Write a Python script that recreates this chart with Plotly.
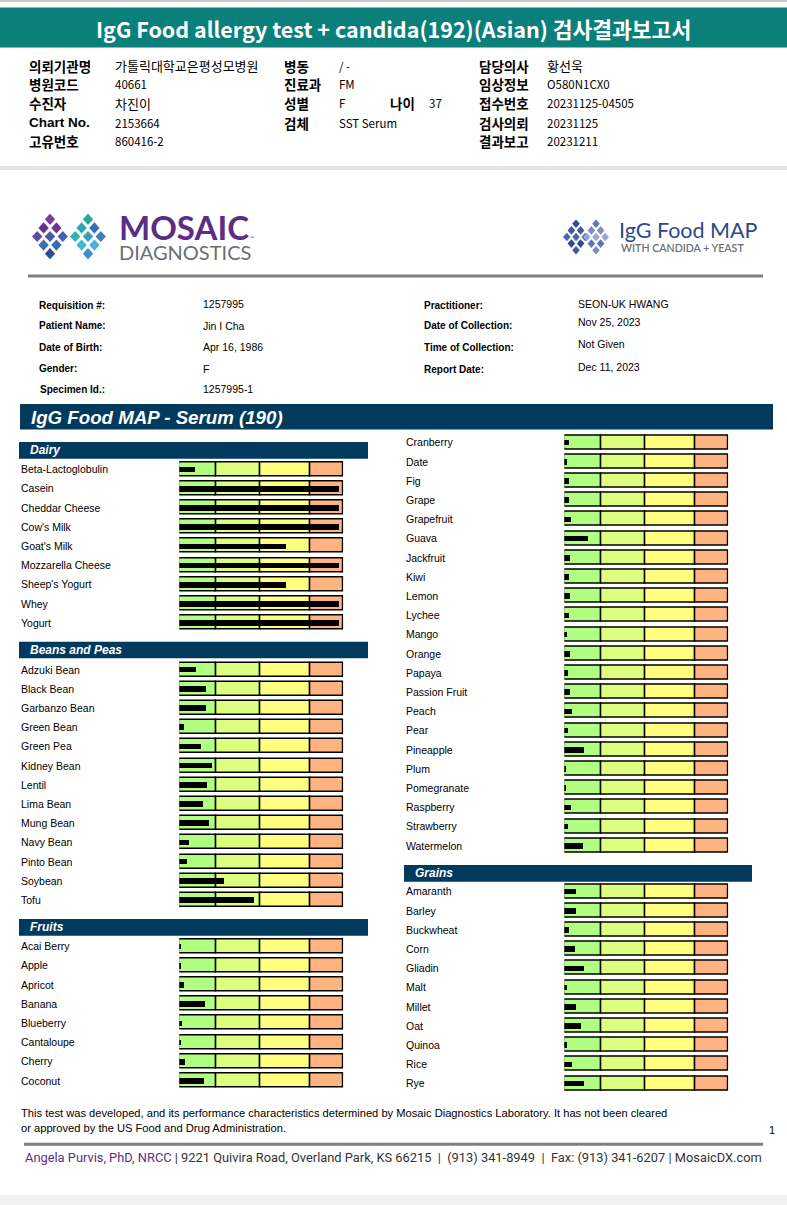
import re
import plotly.graph_objects as go

W, H = 787, 1205

# ---------------- data ----------------
SCALE_EDGES = [0, 37.4, 81, 131, 164]
ZONE_COLORS = ["#b0ff80", "#ddff80", "#ffff80", "#ffb380"]

DAIRY_ITEMS = ["Beta-Lactoglobulin", "Casein", "Cheddar Cheese", "Cow's Milk", "Goat's Milk",
               "Mozzarella Cheese", "Sheep's Yogurt", "Whey", "Yogurt"]
DAIRY_VALUES = [15.7, 159.7, 159.7, 159.7, 106.7, 159.7, 106.7, 159.7, 159.7]

BEANS_ITEMS = ["Adzuki Bean", "Black Bean", "Garbanzo Bean", "Green Bean", "Green Pea", "Kidney Bean",
               "Lentil", "Lima Bean", "Mung Bean", "Navy Bean", "Pinto Bean", "Soybean", "Tofu"]
BEANS_VALUES = [16.7, 26.7, 26.7, 4.7, 21.7, 32.7, 27.7, 23.7, 29.7, 9.7, 7.7, 44.7, 74.7]

FRUITS_A_ITEMS = ["Acai Berry", "Apple", "Apricot", "Banana", "Blueberry", "Cantaloupe", "Cherry", "Coconut"]
FRUITS_A_VALUES = [1.3, 1.3, 4.7, 25.7, 2.7, 1.3, 5.7, 24.7]

FRUITS_B_ITEMS = ["Cranberry", "Date", "Fig", "Grape", "Grapefruit", "Guava", "Jackfruit", "Kiwi", "Lemon",
                  "Lychee", "Mango", "Orange", "Papaya", "Passion Fruit", "Peach", "Pear", "Pineapple",
                  "Plum", "Pomegranate", "Raspberry", "Strawberry", "Watermelon"]
FRUITS_B_VALUES = [4.7, 3.3, 4.7, 4.7, 6.7, 23.7, 5.7, 4.7, 5.7, 4.7, 3.3, 5.7, 3.7, 5.7, 7.7, 3.7,
                   19.7, 1.3, 1.3, 6.7, 3.7, 18.7]

GRAINS_ITEMS = ["Amaranth", "Barley", "Buckwheat", "Corn", "Gliadin", "Malt", "Millet", "Oat",
                "Quinoa", "Rice", "Rye"]
GRAINS_VALUES = [11.7, 11.7, 4.7, 10.7, 19.7, 3.3, 11.7, 16.7, 3.3, 7.7, 19.7]

KR_TITLE = "IgG Food allergy test + candida(192)(Asian) 검사결과보고서"
KR_COL1_LABELS = ["의뢰기관명", "병원코드", "수진자", "Chart No.", "고유번호"]
KR_COL1_VALUES = ["가톨릭대학교은평성모병원", "40661", "차진이", "2153664", "860416-2"]
KR_COL2_LABELS = ["병동", "진료과", "성별", "검체"]
KR_COL2_VALUES = ["/ -", "FM", "F", "SST Serum"]
KR_AGE = ("나이", "37")
KR_COL3_LABELS = ["담당의사", "임상정보", "접수번호", "검사의뢰", "결과보고"]
KR_COL3_VALUES = ["황선욱", "O580N1CX0", "20231125-04505", "20231125", "20231211"]

PT_LEFT_LABELS = ["Requisition #:", "Patient Name:", "Date of Birth:", "Gender:", "Specimen Id.:"]
PT_LEFT_VALUES = ["1257995", "Jin I Cha", "Apr 16, 1986", "F", "1257995-1"]
PT_RIGHT_LABELS = ["Practitioner:", "Date of Collection:", "Time of Collection:", "Report Date:"]
PT_RIGHT_VALUES = ["SEON-UK HWANG", "Nov 25, 2023", "Not Given", "Dec 11, 2023"]

MAIN_TITLE = "IgG Food MAP - Serum (190)"
DISCLAIMER = ["This test was developed, and its performance characteristics determined by Mosaic Diagnostics Laboratory. It has not been cleared",
              "or approved by the US Food and Drug Administration."]
FOOTER_NAME = "Angela Purvis, PhD, NRCC"
FOOTER_REST = " | 9221 Quivira Road, Overland Park, KS 66215  |  (913) 341-8949  |  Fax: (913) 341-6207 | MosaicDX.com"

# ---------------- helpers ----------------
def PX(x):
    return x / W

def PY(y):
    return 1 - y / H

SANS = "Liberation Sans, Arial, sans-serif"
KR = "Noto Sans CJK KR, sans-serif"
HANGUL = re.compile("[\uac00-\ud7a3]")

annotations = []
shapes = []

def txt(x, y, s, size, color="black", family=SANS, xanchor="left", yanchor="middle", weight=None):
    f = dict(size=size, color=color, family=family)
    if weight:
        f["weight"] = weight
    annotations.append(dict(x=PX(x), y=PY(y), xref="paper", yref="paper", text=s, showarrow=False,
                            xanchor=xanchor, yanchor=yanchor, font=f, align="left", borderpad=0))

def rect(x0, y0, x1, y1, color, line=None):
    shapes.append(dict(type="rect", xref="paper", yref="paper", x0=PX(x0), x1=PX(x1), y0=PY(y1), y1=PY(y0),
                       fillcolor=color, line=dict(width=0) if line is None else line, layer="below"))

def diamond(cx, cy, hw, hh, color):
    p = (f"M {PX(cx)},{PY(cy - hh)} L {PX(cx + hw)},{PY(cy)} L {PX(cx)},{PY(cy + hh)} "
         f"L {PX(cx - hw)},{PY(cy)} Z")
    shapes.append(dict(type="path", xref="paper", yref="paper", path=p, fillcolor=color,
                       line=dict(width=0), layer="above"))

def kr_value(x, y, v):
    txt(x, y, v, 13 if HANGUL.search(v) else 11.5, family=KR)

fig = go.Figure()

# ---------------- page decoration ----------------
rect(0, 0, W, 2, "#c8c8c8")
rect(0, 7.5, W, 47.5, "#0b7f79")
txt(393.5, 28, f"<b>{KR_TITLE}</b>", 21.5, color="white", family=KR, xanchor="center")

kr_rows = [65.5, 84, 103.3, 122.8, 140.5]
for i, (l, v) in enumerate(zip(KR_COL1_LABELS, KR_COL1_VALUES)):
    if l == "Chart No.":
        txt(27.5, kr_rows[i], f"<b>{l}</b>", 13.5, family=SANS)
    else:
        txt(27.5, kr_rows[i], f"<b>{l}</b>", 13.5, family=KR)
    kr_value(114, kr_rows[i], v)
for i, (l, v) in enumerate(zip(KR_COL2_LABELS, KR_COL2_VALUES)):
    txt(282.5, kr_rows[i], f"<b>{l}</b>", 13.5, family=KR)
    kr_value(338, kr_rows[i], v)
txt(389, kr_rows[2], f"<b>{KR_AGE[0]}</b>", 13.5, family=KR)
kr_value(428, kr_rows[2], KR_AGE[1])
for i, (l, v) in enumerate(zip(KR_COL3_LABELS, KR_COL3_VALUES)):
    txt(477.5, kr_rows[i], f"<b>{l}</b>", 13.5, family=KR)
    kr_value(546, kr_rows[i], v)

rect(0, 166, W, 170, "#e4e4e4")

# Mosaic logo (two rotated 3x3 diamond clusters)
left_cols = [["#7d3c98", "#6b2e8c", "#5c4aa0"], ["#6a3a93", "#4a5aa8", "#3d6fb0"], ["#4b5fae", "#3a6cb3", "#2e4c9a"]]
right_cols = [["#1fa99a", "#2aa7b0", "#2cb5a6"], ["#3a6cb3", "#34a0c4", "#3db8cc"], ["#3d7fc0", "#4ab0d8", "#3c8fcf"]]
for ccx, cols in ((50, left_cols), (88, right_cols)):
    for i in range(3):
        for j in range(3):
            cx = ccx + (i - j) * 6.4
            cy = 236.5 + (i + j - 2) * 8.6
            diamond(cx, cy, 5.2, 5.6, cols[i][j])
txt(118, 236, ("<span style='font-size:33px;color:#5b2d86'><b>MOSAIC</b></span>"
               "<span style='font-size:5px;color:#5b2d86'> ™</span><br>"
               "<span style='font-size:20px;color:#6d6e71'>DIAGNOSTICS</span>"),
    15.4, color="#6d6e71", family="Lato, sans-serif")

# IgG Food MAP logo
for ccx, cols in ((576, ["#2e4b94", "#3d5aa4", "#4d66ab"]), (596, ["#5f74b6", "#7d8dc3", "#9aa6d0"])):
    for i in range(3):
        for j in range(3):
            cx = ccx + (i - j) * 4.6
            cy = 237 + (i + j - 2) * 6.6
            diamond(cx, cy, 3.8, 4.3, cols[(i + j) % 3])
txt(618, 230.5, "IgG Food MAP", 21.5, color="#2b4a8c", family="Lato, sans-serif")
txt(619.5, 248.5, "WITH CANDIDA + YEAST", 10.6, color="#6d6e71", family="Lato, sans-serif", weight=600)

rect(28, 274.5, 763, 277.5, "#808080")

# patient info
for l, y in zip(PT_LEFT_LABELS, [305, 326, 347.7, 368.3, 390]):
    txt(37.5 if l != "Specimen Id.:" else 39, y, f"<b>{l}</b>", 10)
for v, y in zip(PT_LEFT_VALUES, [304, 326.5, 347.5, 368.5, 389.5]):
    txt(202, y, v, 10.5)
for l, y in zip(PT_RIGHT_LABELS, [305, 326, 348, 369]):
    txt(423, y, f"<b>{l}</b>", 10)
for v, y in zip(PT_RIGHT_VALUES, [304, 322, 343.5, 367]):
    txt(577, y, v, 10.5)

NAVY = "#003a5c"
rect(20, 404, 773, 429.5, NAVY)
txt(30, 417, f"<b><i>{MAIN_TITLE}</i></b>", 18.7, color="white")

# ---------------- chart sections ----------------
PITCH = 19.2
sections = [
    # title, items, values, label_x, bar_x0, bar_x1, first_center, header box (x0,y0,x1,y1)
    ("Dairy", DAIRY_ITEMS, DAIRY_VALUES, 20, 179.3, 343.3, 469.2, (19, 442, 368, 458.7)),
    ("Beans and Peas", BEANS_ITEMS, BEANS_VALUES, 20, 179.3, 343.3, 669.5, (19, 641.7, 368, 658.3)),
    ("Fruits", FRUITS_A_ITEMS, FRUITS_A_VALUES, 20, 179.3, 343.3, 946.2, (19, 919, 368, 935.7)),
    (None, FRUITS_B_ITEMS, FRUITS_B_VALUES, 405, 564.3, 728.3, 442.3, None),
    ("Grains", GRAINS_ITEMS, GRAINS_VALUES, 405, 564.3, 728.3, 891.4, (404, 865, 752, 881.7)),
]

layout_axes = {}
for k, (title, items, values, lx, bx0, bx1, c0, hdr) in enumerate(sections, start=1):
    n = len(items)
    xa = "x" if k == 1 else f"x{k}"
    ya = "y" if k == 1 else f"y{k}"
    xkey = "xaxis" if k == 1 else f"xaxis{k}"
    ykey = "yaxis" if k == 1 else f"yaxis{k}"
    top = c0 - PITCH / 2
    bot = top + n * PITCH
    layout_axes[xkey] = dict(domain=[PX(bx0), PX(bx1)], range=[SCALE_EDGES[0], SCALE_EDGES[-1]],
                             visible=False, fixedrange=True, anchor=ya)
    layout_axes[ykey] = dict(domain=[PY(bot), PY(top)], range=[n - 0.5, -0.5], type="category",
                             categoryorder="array", categoryarray=items, visible=False,
                             fixedrange=True, anchor=xa)
    for z in range(4):
        fig.add_trace(go.Bar(
            y=items, x=[SCALE_EDGES[z + 1] - SCALE_EDGES[z]] * n, base=[SCALE_EDGES[z]] * n,
            orientation="h", width=0.73, marker=dict(color=ZONE_COLORS[z], line=dict(color="black", width=1.5)),
            xaxis=xa, yaxis=ya, showlegend=False, hoverinfo="skip"))
    fig.add_trace(go.Bar(
        y=items, x=values, base=[0] * n, orientation="h", width=0.29,
        marker=dict(color="black", line=dict(width=0)), xaxis=xa, yaxis=ya, showlegend=False,
        hovertemplate="%{y}: %{x}<extra></extra>"))
    for i, name in enumerate(items):
        annotations.append(dict(x=PX(lx), y=i, xref="paper", yref=ya, text=name, showarrow=False,
                                xanchor="left", yanchor="middle", borderpad=0,
                                font=dict(size=10.5, family=SANS, color="black")))
    if hdr:
        rect(hdr[0], hdr[1], hdr[2], hdr[3], NAVY)
        txt(hdr[0] + 10, (hdr[1] + hdr[3]) / 2, f"<b><i>{title}</i></b>", 12, color="white")

# ---------------- footer ----------------
txt(20, 1113, DISCLAIMER[0], 11.15)
txt(20, 1128, DISCLAIMER[1], 11.15)
txt(768, 1130, "1", 11)
rect(24, 1142.8, 763, 1145.8, "#808080")
txt(24, 1157.5, f"<span style='color:#5b2d86'>{FOOTER_NAME}</span><span style='color:#333333'>{FOOTER_REST}</span>",
    12.85, color="#333333", family="Roboto, sans-serif")
rect(0, 1194.5, W, H, "#f0f0f0")

fig.update_layout(
    width=W, height=H, margin=dict(l=0, r=0, t=0, b=0),
    paper_bgcolor="white", plot_bgcolor="rgba(0,0,0,0)",
    barmode="overlay", bargap=0, showlegend=False,
    annotations=annotations, shapes=shapes, **layout_axes)

fig.write_html("out.html", config={"displayModeBar": False},
               post_script="document.body.style.margin='0';document.body.style.overflow='hidden';")
